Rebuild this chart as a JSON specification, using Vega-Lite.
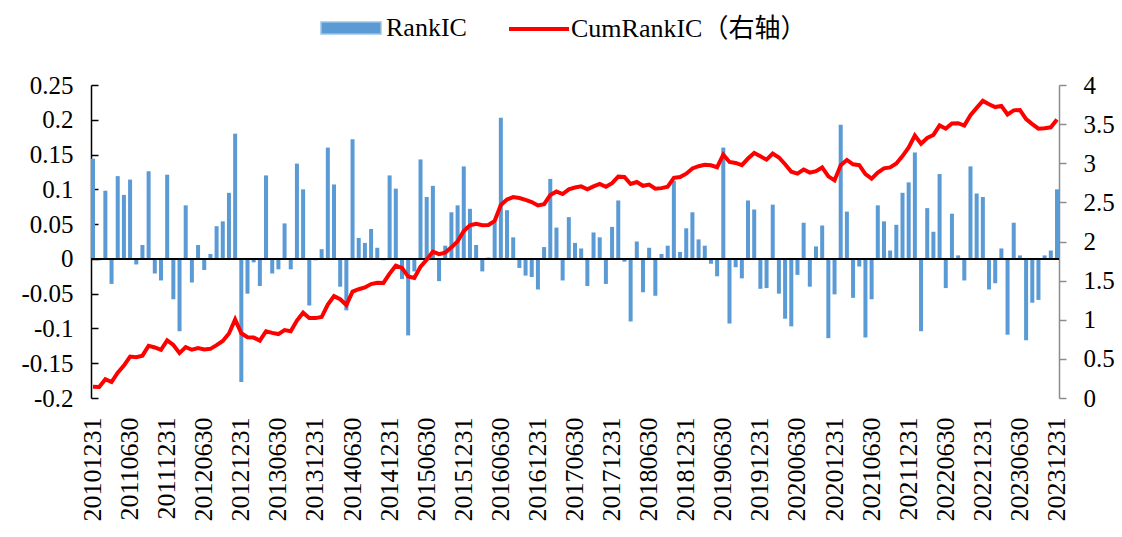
{
  "$schema": "https://vega.github.io/schema/vega-lite/v6.json",
  "width": 968,
  "height": 313,
  "autosize": {"type": "none"},
  "padding": {"left": 91, "top": 85, "right": 63, "bottom": 139},
  "background": "white",
  "config": {"view": {"stroke": null}, "font": "Liberation Serif", "axis": {"grid": false, "labelFont": "Liberation Serif", "labelColor": "black"}},
  "data": {"values": [
    {"date": "20101231", "RankIC": 0.144, "CumRankIC": 0.144},
    {"date": "20110131", "RankIC": -0.002, "CumRankIC": 0.142},
    {"date": "20110228", "RankIC": 0.098, "CumRankIC": 0.240},
    {"date": "20110331", "RankIC": -0.036, "CumRankIC": 0.204},
    {"date": "20110430", "RankIC": 0.119, "CumRankIC": 0.323},
    {"date": "20110531", "RankIC": 0.092, "CumRankIC": 0.415},
    {"date": "20110630", "RankIC": 0.114, "CumRankIC": 0.529},
    {"date": "20110731", "RankIC": -0.008, "CumRankIC": 0.521},
    {"date": "20110831", "RankIC": 0.020, "CumRankIC": 0.541},
    {"date": "20110930", "RankIC": 0.126, "CumRankIC": 0.667},
    {"date": "20111031", "RankIC": -0.021, "CumRankIC": 0.646},
    {"date": "20111130", "RankIC": -0.031, "CumRankIC": 0.615},
    {"date": "20111231", "RankIC": 0.121, "CumRankIC": 0.736},
    {"date": "20120131", "RankIC": -0.058, "CumRankIC": 0.678},
    {"date": "20120229", "RankIC": -0.104, "CumRankIC": 0.574},
    {"date": "20120331", "RankIC": 0.077, "CumRankIC": 0.651},
    {"date": "20120430", "RankIC": -0.034, "CumRankIC": 0.617},
    {"date": "20120531", "RankIC": 0.020, "CumRankIC": 0.637},
    {"date": "20120630", "RankIC": -0.016, "CumRankIC": 0.621},
    {"date": "20120731", "RankIC": 0.007, "CumRankIC": 0.628},
    {"date": "20120831", "RankIC": 0.047, "CumRankIC": 0.675},
    {"date": "20120930", "RankIC": 0.054, "CumRankIC": 0.729},
    {"date": "20121031", "RankIC": 0.095, "CumRankIC": 0.824},
    {"date": "20121130", "RankIC": 0.180, "CumRankIC": 1.004},
    {"date": "20121231", "RankIC": -0.177, "CumRankIC": 0.827},
    {"date": "20130131", "RankIC": -0.050, "CumRankIC": 0.777},
    {"date": "20130228", "RankIC": -0.005, "CumRankIC": 0.772},
    {"date": "20130331", "RankIC": -0.039, "CumRankIC": 0.733},
    {"date": "20130430", "RankIC": 0.120, "CumRankIC": 0.853},
    {"date": "20130531", "RankIC": -0.021, "CumRankIC": 0.832},
    {"date": "20130630", "RankIC": -0.015, "CumRankIC": 0.817},
    {"date": "20130731", "RankIC": 0.051, "CumRankIC": 0.868},
    {"date": "20130831", "RankIC": -0.015, "CumRankIC": 0.853},
    {"date": "20130930", "RankIC": 0.137, "CumRankIC": 0.990},
    {"date": "20131031", "RankIC": 0.100, "CumRankIC": 1.090},
    {"date": "20131130", "RankIC": -0.067, "CumRankIC": 1.023},
    {"date": "20131231", "RankIC": -0.002, "CumRankIC": 1.021},
    {"date": "20140131", "RankIC": 0.014, "CumRankIC": 1.035},
    {"date": "20140228", "RankIC": 0.160, "CumRankIC": 1.195},
    {"date": "20140331", "RankIC": 0.107, "CumRankIC": 1.302},
    {"date": "20140430", "RankIC": -0.040, "CumRankIC": 1.262},
    {"date": "20140531", "RankIC": -0.074, "CumRankIC": 1.188},
    {"date": "20140630", "RankIC": 0.172, "CumRankIC": 1.360},
    {"date": "20140731", "RankIC": 0.030, "CumRankIC": 1.390},
    {"date": "20140831", "RankIC": 0.023, "CumRankIC": 1.413},
    {"date": "20140930", "RankIC": 0.043, "CumRankIC": 1.456},
    {"date": "20141031", "RankIC": 0.016, "CumRankIC": 1.472},
    {"date": "20141130", "RankIC": -0.002, "CumRankIC": 1.470},
    {"date": "20141231", "RankIC": 0.120, "CumRankIC": 1.590},
    {"date": "20150131", "RankIC": 0.101, "CumRankIC": 1.691},
    {"date": "20150228", "RankIC": -0.029, "CumRankIC": 1.662},
    {"date": "20150331", "RankIC": -0.110, "CumRankIC": 1.552},
    {"date": "20150430", "RankIC": -0.018, "CumRankIC": 1.534},
    {"date": "20150531", "RankIC": 0.143, "CumRankIC": 1.677},
    {"date": "20150630", "RankIC": 0.089, "CumRankIC": 1.766},
    {"date": "20150731", "RankIC": 0.105, "CumRankIC": 1.871},
    {"date": "20150831", "RankIC": -0.032, "CumRankIC": 1.839},
    {"date": "20150930", "RankIC": 0.019, "CumRankIC": 1.858},
    {"date": "20151031", "RankIC": 0.067, "CumRankIC": 1.925},
    {"date": "20151130", "RankIC": 0.077, "CumRankIC": 2.002},
    {"date": "20151231", "RankIC": 0.133, "CumRankIC": 2.135},
    {"date": "20160131", "RankIC": 0.072, "CumRankIC": 2.207},
    {"date": "20160229", "RankIC": 0.020, "CumRankIC": 2.227},
    {"date": "20160331", "RankIC": -0.018, "CumRankIC": 2.209},
    {"date": "20160430", "RankIC": 0.002, "CumRankIC": 2.211},
    {"date": "20160531", "RankIC": 0.053, "CumRankIC": 2.264},
    {"date": "20160630", "RankIC": 0.203, "CumRankIC": 2.467},
    {"date": "20160731", "RankIC": 0.070, "CumRankIC": 2.537},
    {"date": "20160831", "RankIC": 0.031, "CumRankIC": 2.568},
    {"date": "20160930", "RankIC": -0.013, "CumRankIC": 2.555},
    {"date": "20161031", "RankIC": -0.024, "CumRankIC": 2.531},
    {"date": "20161130", "RankIC": -0.026, "CumRankIC": 2.505},
    {"date": "20161231", "RankIC": -0.044, "CumRankIC": 2.461},
    {"date": "20170131", "RankIC": 0.017, "CumRankIC": 2.478},
    {"date": "20170228", "RankIC": 0.115, "CumRankIC": 2.593},
    {"date": "20170331", "RankIC": 0.045, "CumRankIC": 2.638},
    {"date": "20170430", "RankIC": -0.031, "CumRankIC": 2.607},
    {"date": "20170531", "RankIC": 0.060, "CumRankIC": 2.667},
    {"date": "20170630", "RankIC": 0.023, "CumRankIC": 2.690},
    {"date": "20170731", "RankIC": 0.015, "CumRankIC": 2.705},
    {"date": "20170831", "RankIC": -0.039, "CumRankIC": 2.666},
    {"date": "20170930", "RankIC": 0.038, "CumRankIC": 2.704},
    {"date": "20171031", "RankIC": 0.031, "CumRankIC": 2.735},
    {"date": "20171130", "RankIC": -0.036, "CumRankIC": 2.699},
    {"date": "20171231", "RankIC": 0.046, "CumRankIC": 2.745},
    {"date": "20180131", "RankIC": 0.084, "CumRankIC": 2.829},
    {"date": "20180228", "RankIC": -0.004, "CumRankIC": 2.825},
    {"date": "20180331", "RankIC": -0.090, "CumRankIC": 2.735},
    {"date": "20180430", "RankIC": 0.025, "CumRankIC": 2.760},
    {"date": "20180531", "RankIC": -0.048, "CumRankIC": 2.712},
    {"date": "20180630", "RankIC": 0.016, "CumRankIC": 2.728},
    {"date": "20180731", "RankIC": -0.053, "CumRankIC": 2.675},
    {"date": "20180831", "RankIC": 0.007, "CumRankIC": 2.682},
    {"date": "20180930", "RankIC": 0.019, "CumRankIC": 2.701},
    {"date": "20181031", "RankIC": 0.112, "CumRankIC": 2.813},
    {"date": "20181130", "RankIC": 0.010, "CumRankIC": 2.823},
    {"date": "20181231", "RankIC": 0.044, "CumRankIC": 2.867},
    {"date": "20190131", "RankIC": 0.067, "CumRankIC": 2.934},
    {"date": "20190228", "RankIC": 0.028, "CumRankIC": 2.962},
    {"date": "20190331", "RankIC": 0.019, "CumRankIC": 2.981},
    {"date": "20190430", "RankIC": -0.007, "CumRankIC": 2.974},
    {"date": "20190531", "RankIC": -0.025, "CumRankIC": 2.949},
    {"date": "20190630", "RankIC": 0.160, "CumRankIC": 3.109},
    {"date": "20190731", "RankIC": -0.093, "CumRankIC": 3.016},
    {"date": "20190831", "RankIC": -0.012, "CumRankIC": 3.004},
    {"date": "20190930", "RankIC": -0.028, "CumRankIC": 2.976},
    {"date": "20191031", "RankIC": 0.084, "CumRankIC": 3.060},
    {"date": "20191130", "RankIC": 0.071, "CumRankIC": 3.131},
    {"date": "20191231", "RankIC": -0.043, "CumRankIC": 3.088},
    {"date": "20200131", "RankIC": -0.042, "CumRankIC": 3.046},
    {"date": "20200229", "RankIC": 0.078, "CumRankIC": 3.124},
    {"date": "20200331", "RankIC": -0.050, "CumRankIC": 3.074},
    {"date": "20200430", "RankIC": -0.086, "CumRankIC": 2.988},
    {"date": "20200531", "RankIC": -0.097, "CumRankIC": 2.891},
    {"date": "20200630", "RankIC": -0.023, "CumRankIC": 2.868},
    {"date": "20200731", "RankIC": 0.052, "CumRankIC": 2.920},
    {"date": "20200831", "RankIC": -0.040, "CumRankIC": 2.880},
    {"date": "20200930", "RankIC": 0.018, "CumRankIC": 2.898},
    {"date": "20201031", "RankIC": 0.048, "CumRankIC": 2.946},
    {"date": "20201130", "RankIC": -0.114, "CumRankIC": 2.832},
    {"date": "20201231", "RankIC": -0.051, "CumRankIC": 2.781},
    {"date": "20210131", "RankIC": 0.193, "CumRankIC": 2.974},
    {"date": "20210228", "RankIC": 0.068, "CumRankIC": 3.042},
    {"date": "20210331", "RankIC": -0.056, "CumRankIC": 2.986},
    {"date": "20210430", "RankIC": -0.011, "CumRankIC": 2.975},
    {"date": "20210531", "RankIC": -0.113, "CumRankIC": 2.862},
    {"date": "20210630", "RankIC": -0.058, "CumRankIC": 2.804},
    {"date": "20210731", "RankIC": 0.077, "CumRankIC": 2.881},
    {"date": "20210831", "RankIC": 0.054, "CumRankIC": 2.935},
    {"date": "20210930", "RankIC": 0.012, "CumRankIC": 2.947},
    {"date": "20211031", "RankIC": 0.049, "CumRankIC": 2.996},
    {"date": "20211130", "RankIC": 0.095, "CumRankIC": 3.091},
    {"date": "20211231", "RankIC": 0.110, "CumRankIC": 3.201},
    {"date": "20220131", "RankIC": 0.153, "CumRankIC": 3.354},
    {"date": "20220228", "RankIC": -0.104, "CumRankIC": 3.250},
    {"date": "20220331", "RankIC": 0.073, "CumRankIC": 3.323},
    {"date": "20220430", "RankIC": 0.039, "CumRankIC": 3.362},
    {"date": "20220531", "RankIC": 0.122, "CumRankIC": 3.484},
    {"date": "20220630", "RankIC": -0.042, "CumRankIC": 3.442},
    {"date": "20220731", "RankIC": 0.065, "CumRankIC": 3.507},
    {"date": "20220831", "RankIC": 0.005, "CumRankIC": 3.512},
    {"date": "20220930", "RankIC": -0.031, "CumRankIC": 3.481},
    {"date": "20221031", "RankIC": 0.133, "CumRankIC": 3.614},
    {"date": "20221130", "RankIC": 0.094, "CumRankIC": 3.708},
    {"date": "20221231", "RankIC": 0.089, "CumRankIC": 3.797},
    {"date": "20230131", "RankIC": -0.044, "CumRankIC": 3.753},
    {"date": "20230228", "RankIC": -0.035, "CumRankIC": 3.718},
    {"date": "20230331", "RankIC": 0.015, "CumRankIC": 3.733},
    {"date": "20230430", "RankIC": -0.109, "CumRankIC": 3.624},
    {"date": "20230531", "RankIC": 0.052, "CumRankIC": 3.676},
    {"date": "20230630", "RankIC": 0.005, "CumRankIC": 3.681},
    {"date": "20230731", "RankIC": -0.117, "CumRankIC": 3.564},
    {"date": "20230831", "RankIC": -0.063, "CumRankIC": 3.501},
    {"date": "20230930", "RankIC": -0.059, "CumRankIC": 3.442},
    {"date": "20231031", "RankIC": 0.005, "CumRankIC": 3.447},
    {"date": "20231130", "RankIC": 0.012, "CumRankIC": 3.459},
    {"date": "20231231", "RankIC": 0.100, "CumRankIC": 3.559}
  ]},
  "layer": [
    {
      "mark": {"type": "bar"},
      "encoding": {
        "x": {"field": "date", "type": "ordinal", "sort": null,
          "scale": {"paddingInner": 0.35, "paddingOuter": 0},
          "axis": {"orient": "bottom", "title": null, "domain": false, "ticks": false, "labelAngle": -90, "labelAlign": "right", "labelBaseline": "middle", "labelPadding": 19, "labelFontSize": 26, "labelOverlap": false,
            "values": ["20101231","20110630","20111231","20120630","20121231","20130630","20131231","20140630","20141231","20150630","20151231","20160630","20161231","20170630","20171231","20180630","20181231","20190630","20191231","20200630","20201231","20210630","20211231","20220630","20221231","20230630","20231231"]}},
        "y": {"field": "RankIC", "type": "quantitative", "stack": null,
          "scale": {"domain": [-0.2, 0.25], "nice": false},
          "axis": {"orient": "left", "title": null, "values": [-0.2, -0.15, -0.1, -0.05, 0, 0.05, 0.1, 0.15, 0.2, 0.25], "labelExpr": "replace(format(datum.value, '.2~f'), '\u2212', '-')", "labelFontSize": 25, "domainColor": "black", "domainWidth": 1.5, "tickColor": "black", "tickWidth": 1.5, "tickSize": -7, "labelPadding": 25}},
        "y2": {"datum": 0},
        "fill": {"datum": "RankIC", "scale": {"domain": ["RankIC"], "range": ["#5B9BD5"]},
          "legend": {"orient": "none", "legendX": 229, "legendY": -88, "title": null, "padding": 0, "symbolType": "M-1,-0.2H1V0.2H-1Z", "symbolSize": 3600, "symbolFillColor": "#2E75C8", "symbolStrokeColor": "#9DC3E6", "symbolStrokeWidth": 1.5, "labelFontSize": 26, "labelFont": "Liberation Serif", "labelColor": "black", "labelOffset": 4, "labelLimit": 0}}
      }
    },
    {
      "mark": {"type": "rule", "color": "black", "strokeWidth": 1.5},
      "encoding": {"y": {"datum": 0, "type": "quantitative", "scale": {"domain": [-0.2, 0.25], "nice": false}, "axis": null}}
    },
    {
      "mark": {"type": "line", "strokeWidth": 4},
      "encoding": {
        "x": {"field": "date", "type": "ordinal", "sort": null},
        "y": {"field": "CumRankIC", "type": "quantitative",
          "scale": {"domain": [0, 4], "nice": false},
          "axis": {"orient": "right", "title": null, "values": [0, 0.5, 1, 1.5, 2, 2.5, 3, 3.5, 4], "format": "~g", "labelFontSize": 25, "domainColor": "#8C8C8C", "domainWidth": 1.5, "tickColor": "#8C8C8C", "tickWidth": 1.5, "tickSize": 7, "labelPadding": 17}},
        "stroke": {"datum": "CumRankIC（右轴）", "scale": {"domain": ["CumRankIC（右轴）"], "range": ["#FF0000"]},
          "legend": {"orient": "none", "legendX": 416, "legendY": -88, "title": null, "padding": 0, "symbolType": "M-1,0H1", "symbolSize": 3600, "symbolStrokeWidth": 4, "labelFontSize": 26, "labelFont": "Liberation Serif, Noto Sans CJK SC", "labelColor": "black", "labelOffset": 0, "labelLimit": 0}}
      }
    }
  ],
  "resolve": {"scale": {"y": "independent", "fill": "independent", "stroke": "independent"}}
}
